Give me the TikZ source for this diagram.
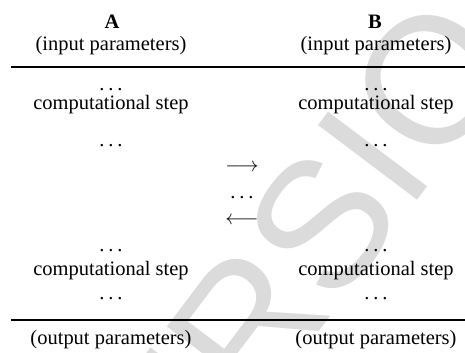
\documentclass[tikz,border=0pt]{standalone}
\usepackage{fontspec}
\setmainfont{Liberation Serif}
\newfontfamily\wmfont{Liberation Sans}
\newcommand{\stepdots}{.\kern1.9pt.\kern1.9pt.}
\tikzset{
  cell/.style={inner sep=0pt, font=\fontsize{10}{12}\selectfont},
  head/.style={cell, font=\fontsize{10}{12}\selectfont\bfseries},
  rule/.style={line width=0.95pt}
}
\begin{document}
\begin{tikzpicture}[x=0.488pt, y=-0.488pt]
        \useasboundingbox (0,0) rectangle (465,353);

        % Watermark in the background
        \begin{scope}
        \clip (0,0) rectangle (465,353);
        \node[black!14, rotate=53, inner sep=0pt, font=\wmfont\fontsize{88}{88}\selectfont] (wm) at (307,244) {VERSION};
        \end{scope}

        % Column heads
        \node[head] (headA) at (112,22) {A};
        \node[head] (headB) at (375,22) {B};
        \node[cell] (inA) at (111,46) {(input parameters)};
        \node[cell] (inB) at (376,46) {(input parameters)};

        % Top and bottom rules
        \coordinate (topL) at (11,67);
        \coordinate (topR) at (465,67);
        \coordinate (botL) at (11,320);
        \coordinate (botR) at (465,320);
        \draw[rule] (topL) -- (topR);
        \draw[rule] (botL) -- (botR);

        % Steps of A
        \node[cell] (dotsA1) at (111,90) {\stepdots};
        \node[cell] (stepA1) at (111,105) {computational step};
        \node[cell] (dotsA2) at (111,146) {\stepdots};
        \node[cell] (dotsA3) at (111,251) {\stepdots};
        \node[cell] (stepA2) at (111,271) {computational step};
        \node[cell] (dotsA4) at (111,299) {\stepdots};

        % Steps of B
        \node[cell] (dotsB1) at (376,90) {\stepdots};
        \node[cell] (stepB1) at (376,105) {computational step};
        \node[cell] (dotsB2) at (376,146) {\stepdots};
        \node[cell] (dotsB3) at (376,251) {\stepdots};
        \node[cell] (stepB2) at (376,271) {computational step};
        \node[cell] (dotsB4) at (376,299) {\stepdots};

        % Messages between A and B
        \node[cell] (toB) at (242,168) {$\longrightarrow$};
        \node[cell] (dotsM) at (242,198) {\stepdots};
        \node[cell] (toA) at (242,221) {$\longleftarrow$};

        % Outputs
        \node[cell] (outA) at (111,340) {(output parameters)};
        \node[cell] (outB) at (376,340) {(output parameters)};
\end{tikzpicture}
\end{document}
